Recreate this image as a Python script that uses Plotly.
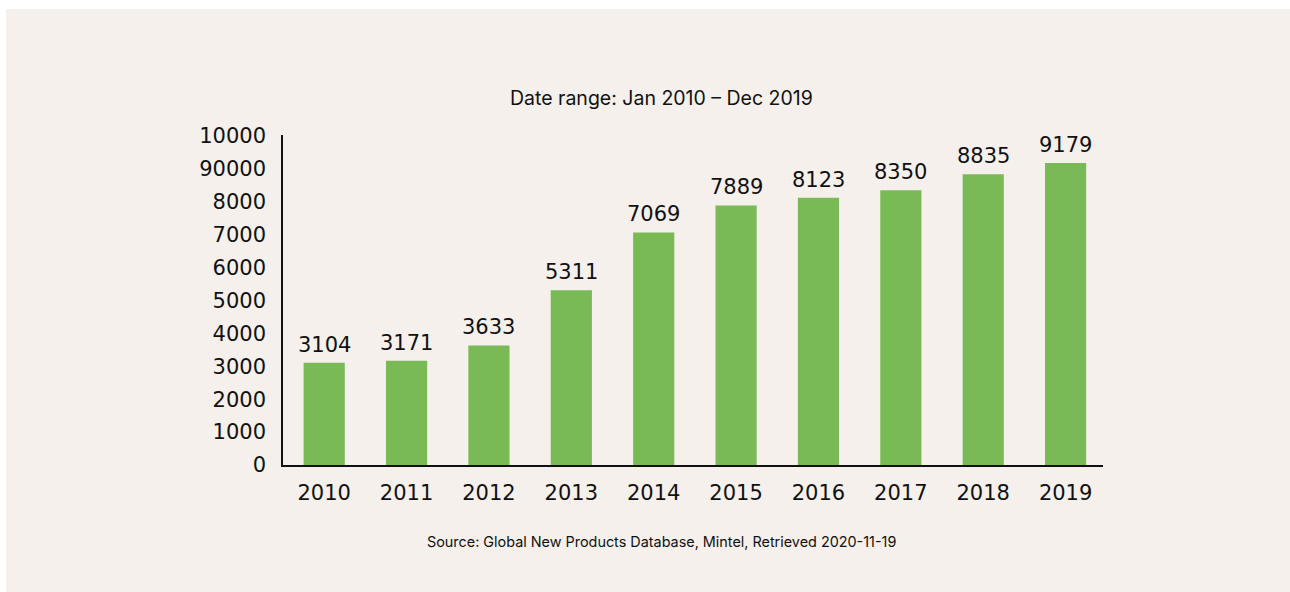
import plotly.graph_objects as go

years = ["2010", "2011", "2012", "2013", "2014", "2015", "2016", "2017", "2018", "2019"]
values = [3104, 3171, 3633, 5311, 7069, 7889, 8123, 8350, 8835, 9179]
y_tick_vals = [0, 1000, 2000, 3000, 4000, 5000, 6000, 7000, 8000, 9000, 10000]
y_tick_text = ["0", "1000", "2000", "3000", "4000", "5000", "6000", "7000", "8000", "90000", "10000"]
title_text = "Date range: Jan 2010 \u2013 Dec 2019"
source_text = "Source: Global New Products Database, Mintel, Retrieved 2020-11-19"

W, H = 1290, 592
L, R, T, B = 283, 1290 - 1103, 135, 592 - 465
pw, ph = W - L - R, H - T - B

def px_x(px):
    return (px - L) / pw

def px_y(py):
    return (H - B - py) / ph

BG = "#f5f0ec"
GREEN = "#7aba56"
NUMFONT = "DejaVu Sans, Liberation Sans, sans-serif"
TXTFONT = "Inter, Liberation Sans, sans-serif"

fig = go.Figure()
fig.add_trace(go.Bar(x=list(range(len(years))), y=values,
                     marker=dict(color=GREEN, line=dict(width=0)),
                     width=0.5, hoverinfo="skip"))

for i, v in enumerate(values):
    fig.add_annotation(x=i, y=v, text=str(v), showarrow=False, yanchor="bottom",
                       yshift=4, font=dict(family=NUMFONT, size=21, color="#111111"))

fig.add_annotation(x=px_x(661), y=px_y(98), xref="paper", yref="paper", text=title_text,
                   showarrow=False, xanchor="center", yanchor="middle",
                   font=dict(family=TXTFONT, size=19.5, color="#111111"))
fig.add_annotation(x=px_x(661), y=px_y(541), xref="paper", yref="paper", text=source_text,
                   showarrow=False, xanchor="center", yanchor="middle",
                   font=dict(family=TXTFONT, size=14.4, color="#111111"))

fig.add_shape(type="rect", xref="paper", yref="paper", x0=px_x(6), x1=px_x(1295),
              y0=px_y(597), y1=px_y(9), fillcolor=BG, line=dict(width=0), layer="below")

fig.update_layout(
    width=W, height=H,
    margin=dict(l=L, r=R, t=T, b=B, pad=0),
    paper_bgcolor="white", plot_bgcolor="rgba(0,0,0,0)",
    showlegend=False,
    xaxis=dict(range=[-0.5, 9.454], showline=True, linecolor="#111111",
               linewidth=1.5, showgrid=False, ticks="", ticklabelstandoff=8,
               tickvals=list(range(len(years))), ticktext=years,
               tickfont=dict(family=NUMFONT, size=21, color="#111111"), zeroline=False),
    yaxis=dict(range=[0, 10030], showline=True, linecolor="#111111", linewidth=1.5,
               showgrid=False, zeroline=False, ticks="", tickvals=y_tick_vals,
               ticktext=y_tick_text, ticklabelstandoff=11,
               tickfont=dict(family=NUMFONT, size=21, color="#111111")),
)

fig.write_html("out.html")
